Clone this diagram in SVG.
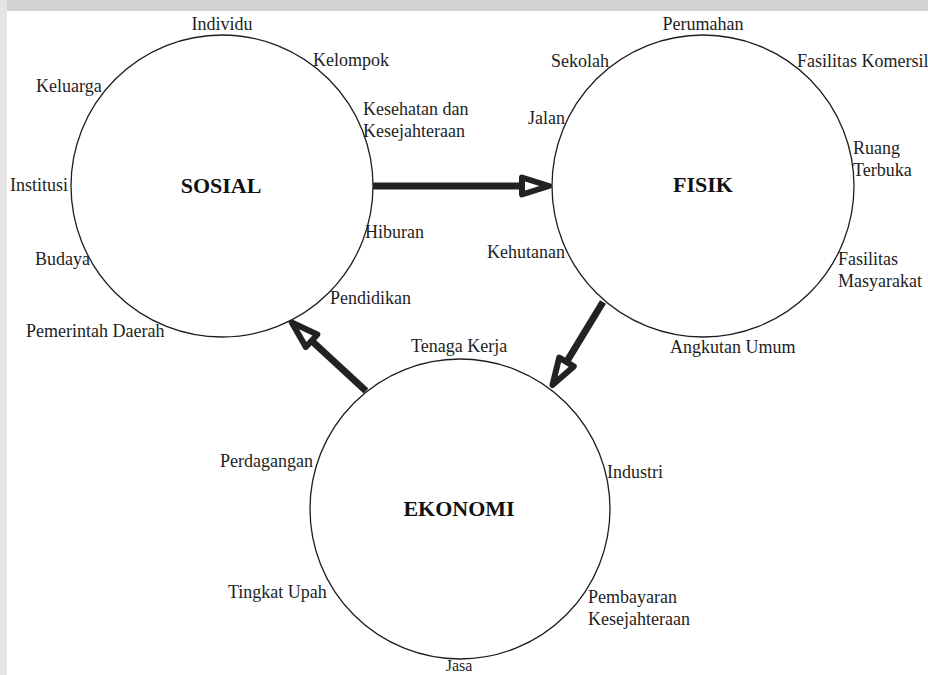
<svg xmlns="http://www.w3.org/2000/svg" width="928" height="675" viewBox="0 0 928 675">
<style>
.lbl{font-family:"Liberation Serif","Times New Roman",serif;font-size:18px;fill:#1e1e1e}
.ttl{font-family:"Liberation Serif","Times New Roman",serif;font-size:22px;font-weight:bold;fill:#111;text-anchor:middle}
.c{fill:#fff;stroke:#1e1e1e;stroke-width:1.3}
.arr{stroke:#222;stroke-width:7;fill:none;marker-end:url(#head)}
</style>
<defs>
<marker id="head" markerUnits="userSpaceOnUse" viewBox="-6 -14 40 28" markerWidth="40" markerHeight="28" refX="0" refY="0" orient="auto" overflow="visible">
<path d="M0,-8.5 L27,0 L0,8.5 Z" fill="#fff" stroke="#222" stroke-width="6" stroke-linejoin="round"/>
</marker>
</defs>
<rect width="928" height="675" fill="#fff"/>
<rect x="0" y="0" width="928" height="11" fill="#d2d2d2"/>
<rect x="0" y="0" width="7" height="675" fill="#e4e4e4"/>

<g id="sosial">
<circle class="c" cx="222" cy="186" r="151"/>
<text class="ttl" x="221" y="193">SOSIAL</text>
<text class="lbl" x="222" y="30" text-anchor="middle">Individu</text>
<text class="lbl" x="313" y="66">Kelompok</text>
<text class="lbl" x="36" y="92">Keluarga</text>
<text class="lbl" x="363" y="115">Kesehatan dan</text>
<text class="lbl" x="363" y="137">Kesejahteraan</text>
<text class="lbl" x="10" y="191">Institusi</text>
<text class="lbl" x="365" y="238">Hiburan</text>
<text class="lbl" x="35" y="265">Budaya</text>
<text class="lbl" x="330" y="304">Pendidikan</text>
<text class="lbl" x="26" y="337">Pemerintah Daerah</text>
</g>

<g id="fisik">
<circle class="c" cx="703" cy="186" r="151"/>
<text class="ttl" x="703" y="192">FISIK</text>
<text class="lbl" x="703" y="30" text-anchor="middle">Perumahan</text>
<text class="lbl" x="551" y="67">Sekolah</text>
<text class="lbl" x="797" y="67">Fasilitas Komersil</text>
<text class="lbl" x="528" y="124">Jalan</text>
<text class="lbl" x="853" y="154">Ruang</text>
<text class="lbl" x="853" y="176">Terbuka</text>
<text class="lbl" x="487" y="258">Kehutanan</text>
<text class="lbl" x="838" y="265">Fasilitas</text>
<text class="lbl" x="838" y="287">Masyarakat</text>
<text class="lbl" x="670" y="353">Angkutan Umum</text>
</g>

<g id="ekonomi">
<circle class="c" cx="460" cy="509" r="150"/>
<text class="ttl" x="459" y="516">EKONOMI</text>
<text class="lbl" x="411" y="352">Tenaga Kerja</text>
<text class="lbl" x="220" y="467">Perdagangan</text>
<text class="lbl" x="607" y="478">Industri</text>
<text class="lbl" x="228" y="598">Tingkat Upah</text>
<text class="lbl" x="588" y="603">Pembayaran</text>
<text class="lbl" x="588" y="625">Kesejahteraan</text>
<text class="lbl" x="459" y="671" text-anchor="middle" style="font-size:16px">Jasa</text>
</g>

<g id="connectors">
<line class="arr" x1="373" y1="186" x2="522" y2="186"/>
<line class="arr" x1="603" y1="302" x2="566.5" y2="362"/>
<line class="arr" x1="366" y1="391" x2="311.6" y2="340.8"/>
</g>
</svg>
